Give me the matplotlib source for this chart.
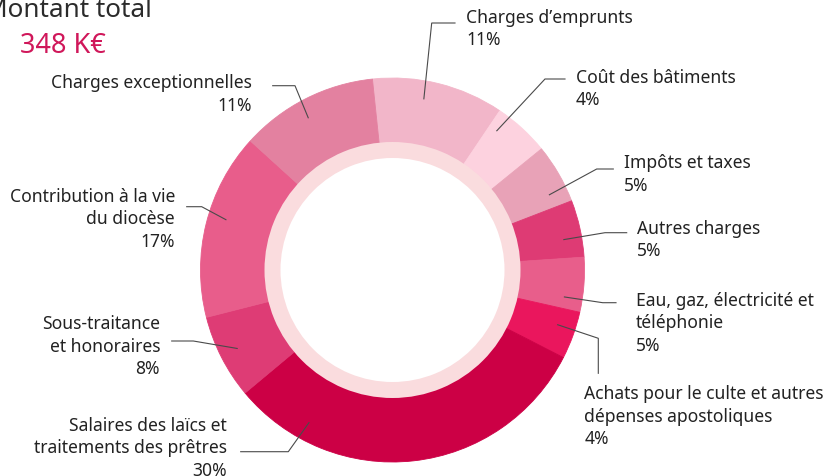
import matplotlib
matplotlib.use("Agg")
import matplotlib.pyplot as plt
from matplotlib.patches import Wedge
import numpy as np

plt.rcParams['font.family'] = ['Noto Sans', 'DejaVu Sans']

# ---- data ----
categories = [
    "Charges d\u2019emprunts",
    "Co\u00fbt des b\u00e2timents",
    "Imp\u00f4ts et taxes",
    "Autres charges",
    "Eau, gaz, \u00e9lectricit\u00e9 et\nt\u00e9l\u00e9phonie",
    "Achats pour le culte et autres\nd\u00e9penses apostoliques",
    "Salaires des la\u00efcs et\ntraitements des pr\u00eatres",
    "Sous-traitance\net honoraires",
    "Contribution \u00e0 la vie\ndu dioc\u00e8se",
    "Charges exceptionnelles",
]
shares = [11.1, 4.7, 5.0, 4.8, 4.6, 4.0, 31.4, 7.1, 15.7, 11.6]
pct_labels = ["11%", "4%", "5%", "5%", "5%", "4%", "30%", "8%", "17%", "11%"]
total_label = "348 K\u20ac"
title_text = "Montant total"

# ---- style ----
colors = ["#F2B6C9", "#FDD2DF", "#E8A2B7", "#DE3B74", "#E85E8B",
          "#EA165D", "#CC0045", "#DE3C75", "#E85D8B", "#E381A0"]
ring_color = "#FADCDE"

W, H = 839, 476
fig = plt.figure(figsize=(W / 100, H / 100), dpi=100)
ax = fig.add_axes([0, 0, 1, 1])

def Y(y):
    return H - y

cx, cy = 392.5, Y(270)
R = 192
width = 65

wedges, _ = ax.pie(shares, radius=R, center=(cx, cy), startangle=96,
                   counterclock=False, colors=colors,
                   wedgeprops=dict(width=width, linewidth=0.6),
                   frame=True)
for w, c in zip(wedges, colors):
    w.set_edgecolor(c)

ax.add_patch(Wedge((cx, cy), 128, 0, 360, width=16, facecolor=ring_color,
                   edgecolor='none'))

ax.set_xlim(0, W)
ax.set_ylim(0, H)
ax.set_aspect('equal')
ax.axis('off')

# ---- labels & leaders (layout) ----
# (text x, first baseline y, ha, leader start, leader elbow, anchor fraction in slice)
layout = [
    (466, 22.7, 'left', (455, 23), (431.7, 23), 0.41),
    (576, 82.7, 'left', (565, 79), (545, 79), 0.17),
    (624, 168.3, 'left', (613.3, 169), (596.7, 169), 0.75),
    (636.7, 234, 'left', (626.7, 232.7), (605, 232.7), 0.64),
    (636, 306, 'left', (616, 302.7), (602.7, 302.7), 0.77),
    (584.3, 399.3, 'left', (598.3, 373.3), (598.3, 338.3), 0.39),
    (226.7, 430.7, 'right', (240.7, 451.7), (288.3, 451.7), 0.81),
    (160, 329, 'right', (171.7, 341), (193.3, 341), 0.51),
    (175, 201.7, 'right', (186.7, 206.7), (201.7, 206.7), 0.55),
    (251.7, 88.3, 'right', (272.7, 85.7), (295, 85.7), 0.45),
]

line_h = 22.5
text_color = "#222222"
for w, cat, pct, (tx, ty, ha, p0, p1, frac) in zip(wedges, categories, pct_labels, layout):
    lines = cat.split("\n") + [pct]
    for i, ln in enumerate(lines):
        ax.text(tx, Y(ty + i * line_h), ln, ha=ha, va='baseline',
                fontsize=12.6, color=text_color)
    # anchor on the wedge
    t1, t2 = w.theta1, w.theta2
    ang = np.deg2rad(t2 - frac * (t2 - t1))
    ax_ = cx + 174 * np.cos(ang)
    ay_ = cy + 174 * np.sin(ang)
    ax.plot([p0[0], p1[0], ax_], [Y(p0[1]), Y(p1[1]), ay_],
            color="#4a4a4a", lw=0.8, solid_joinstyle='miter')

# ---- title ----
ax.text(152, Y(16.7), title_text, ha='right', va='baseline', fontsize=18.8,
        color="#2b2b2b")
ax.text(19.5, Y(53.3), total_label, ha='left', va='baseline', fontsize=19.5,
        color="#D0175A")

fig.savefig("out.png", dpi=100)
